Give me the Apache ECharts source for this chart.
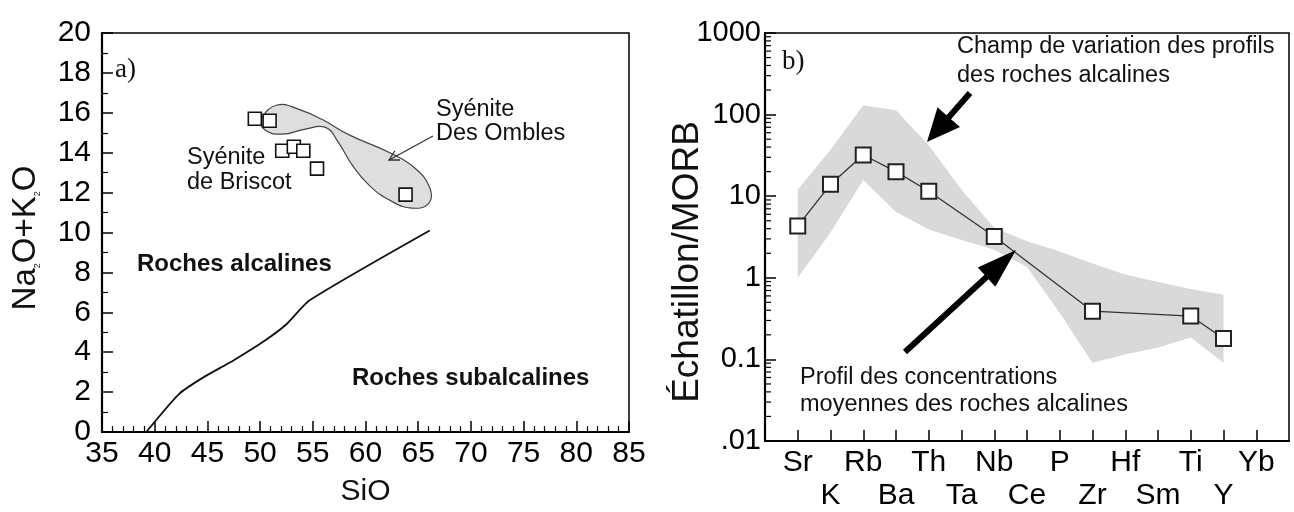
<!DOCTYPE html>
<html>
<head>
<meta charset="utf-8">
<script src="https://cdn.jsdelivr.net/npm/echarts@6/dist/echarts.min.js"></script>
<style>
html,body{margin:0;padding:0;background:#fff;}
#chart{width:1294px;height:512px;}
</style>
</head>
<body>
<div id="chart"></div>
<script>
// ---------- Panel a) data ----------
const sampleSiO2 = [49.5, 50.9, 52.1, 53.2, 54.1, 55.4, 63.8];
const sampleAlk  = [15.7, 15.6, 14.1, 14.3, 14.1, 13.2, 11.9];
const boundarySiO2 = [39.2, 42.3, 44.5, 47.5, 50.5, 52.5, 54.7, 66.1];
const boundaryAlk  = [0.0, 1.9, 2.7, 3.6, 4.6, 5.4, 6.6, 10.1];
const envelopeSiO2 = [50.1, 51.6, 53.8, 55.9, 58.5, 62.3, 64.7, 66.1, 66.0, 64.4, 62.5, 60.4, 58.7, 57.4, 56.2, 54.2, 52.1, 50.5];
const envelopeAlk  = [15.66, 16.39, 16.15, 15.66, 14.88, 14.0, 13.22, 12.24, 11.46, 11.22, 11.56, 12.34, 13.41, 14.54, 15.27, 15.17, 14.93, 15.12];

// ---------- Panel b) data ----------
const elements = ['Sr','K','Rb','Ba','Th','Ta','Nb','Ce','P','Zr','Hf','Sm','Ti','Y','Yb'];
const profile  = [4.3, 14, 32, 20, 11.5, null, 3.2, null, null, 0.39, null, null, 0.34, 0.18, null];
const bandUpper = [12, 37, 130, 113, 42, 12, 4.1, 2.8, 2.1, 1.5, 1.1, 0.89, 0.73, 0.62];
const bandLower = [1.0, 3.6, 15.8, 6.4, 3.9, 2.9, 2.2, 1.36, 0.37, 0.091, 0.115, 0.14, 0.185, 0.091];
const logTickValues = [0.01, 0.1, 1, 10, 100, 1000];
const logTickLabels = ['.01', '0.1', '1', '10', '100', '1000'];

const FONT = "'Liberation Sans', Arial, sans-serif";
const SERIF = "'Liberation Serif', 'Times New Roman', serif";

// minor log ticks (2..9 in each decade)
const minorLog = [];
for (let d = 0; d < logTickValues.length - 1; d++) {
  for (let k = 2; k <= 9; k++) minorLog.push([-1, +(logTickValues[d] * k).toPrecision(3)]);
}

function arrowPts(tail, tip, sw, hl, hw) {
  const dx = tip[0] - tail[0], dy = tip[1] - tail[1];
  const L = Math.hypot(dx, dy), ux = dx / L, uy = dy / L, nx = -uy, ny = ux;
  const bx = tip[0] - ux * hl, by = tip[1] - uy * hl;
  return [
    [tail[0] + nx * sw / 2, tail[1] + ny * sw / 2],
    [bx + nx * sw / 2, by + ny * sw / 2],
    [bx + nx * hw / 2, by + ny * hw / 2],
    tip,
    [bx - nx * hw / 2, by - ny * hw / 2],
    [bx - nx * sw / 2, by - ny * sw / 2],
    [tail[0] - nx * sw / 2, tail[1] - ny * sw / 2]
  ];
}
function thinHead(tail, tip, len, ang) {
  const a = Math.atan2(tail[1] - tip[1], tail[0] - tip[0]);
  return [
    [tip[0] + len * Math.cos(a + ang), tip[1] + len * Math.sin(a + ang)],
    tip,
    [tip[0] + len * Math.cos(a - ang), tip[1] + len * Math.sin(a - ang)]
  ];
}

const envelopeData = envelopeSiO2.map((x, i) => [x, envelopeAlk[i]]);
const bandData = bandUpper.map((u, i) => [i, bandLower[i], u]);

const chart = echarts.init(document.getElementById('chart'), null, {renderer: 'canvas'});

function txt(text, x, y, size, opts) {
  opts = opts || {};
  const st = {
    text: text, x: 0, y: 0, fill: '#111',
    font: (opts.weight || 'normal') + ' ' + size + 'px ' + (opts.family || FONT),
    align: opts.align || 'left', verticalAlign: 'middle'
  };
  if (opts.rich) st.rich = opts.rich;
  return {type: 'text', x: x, y: y, z: 100, rotation: opts.rotation || 0, style: st};
}

const TICKFONT = 30;
const NOTE = 23.5;

const option = {
  backgroundColor: '#fff',
  animation: false,
  grid: [
    {left: 102, top: 33, width: 527, height: 410, show: true, borderColor: '#000', borderWidth: 1.5, backgroundColor: 'transparent'},
    {left: 765, top: 33, width: 524, height: 409, show: true, borderColor: '#000', borderWidth: 1.5, backgroundColor: 'transparent'}
  ],
  xAxis: [
    {
      type: 'value', gridIndex: 0, min: 35, max: 85, interval: 5,
      name: 'SiO', nameLocation: 'middle', nameGap: 45,
      nameTextStyle: {fontSize: 30, color: '#111', fontFamily: FONT},
      axisLine: {show: true, onZero: false, lineStyle: {color: '#000', width: 2.2}},
      axisTick: {show: true, inside: true, length: 11, lineStyle: {color: '#000', width: 1.5}},
      minorTick: {show: true, splitNumber: 5, length: 6, lineStyle: {color: '#000', width: 1.2}},
      axisLabel: {fontSize: TICKFONT, color: '#000', margin: 7, fontFamily: FONT},
      splitLine: {show: false}
    },
    {
      type: 'value', gridIndex: 1, min: -1, max: 15, interval: 1,
      axisLine: {show: true, onZero: false, lineStyle: {color: '#000', width: 2.2}},
      axisTick: {show: true, inside: true, length: 11, lineStyle: {color: '#000', width: 1.5},
                 customValues: elements.map((e, i) => i)},
      axisLabel: {fontSize: TICKFONT, color: '#000', margin: 5, fontFamily: FONT, lineHeight: 33,
                  customValues: elements.map((e, i) => i),
                  formatter: function (v) { const i = Math.round(v); if (i < 0 || i >= elements.length) return ''; return i % 2 ? '\n' + elements[i] : elements[i]; }},
      splitLine: {show: false}
    }
  ],
  yAxis: [
    {
      type: 'value', gridIndex: 0, min: 0, max: 20, interval: 2,
      axisLine: {show: true, onZero: false, lineStyle: {color: '#000', width: 2.2}},
      axisTick: {show: true, inside: true, length: 11, lineStyle: {color: '#000', width: 1.5}},
      minorTick: {show: true, splitNumber: 2, length: 6, lineStyle: {color: '#000', width: 1.2}},
      axisLabel: {fontSize: TICKFONT, color: '#000', margin: 11, fontFamily: FONT, padding: [0, 0, 8, 0]},
      splitLine: {show: false}
    },
    {
      type: 'log', logBase: 10, gridIndex: 1, min: 0.01, max: 1000, splitNumber: 5,
      axisLine: {show: true, onZero: false, lineStyle: {color: '#000', width: 2.2}},
      axisTick: {show: true, inside: true, length: 11, lineStyle: {color: '#000', width: 1.5}},
      axisLabel: {fontSize: 29, color: '#000', margin: 4, fontFamily: FONT, padding: [0, 0, 12, 0],
                  formatter: function (v) { for (let i = 0; i < logTickValues.length; i++) { if (Math.abs(Math.log10(v) - Math.log10(logTickValues[i])) < 1e-6) return logTickLabels[i]; } return ''; }},
      splitLine: {show: false}
    }
  ],
  series: [
    {
      type: 'custom', name: 'Syénite Des Ombles (champ)', xAxisIndex: 0, yAxisIndex: 0, z: 1,
      data: envelopeData,
      renderItem: function (params, api) {
        if (params.dataIndex !== 0) return null;
        const pts = envelopeData.map(p => api.coord(p));
        return {type: 'polygon', shape: {points: pts, smooth: 0.45},
                style: {fill: '#dedede', stroke: '#444', lineWidth: 1.2}};
      }
    },
    {
      type: 'line', name: 'limite', xAxisIndex: 0, yAxisIndex: 0, z: 3,
      data: boundarySiO2.map((x, i) => [x, boundaryAlk[i]]),
      symbol: 'none', smooth: 0.2,
      lineStyle: {color: '#111', width: 1.8}
    },
    {
      type: 'scatter', name: 'échantillons', xAxisIndex: 0, yAxisIndex: 0, z: 5,
      data: sampleSiO2.map((x, i) => [x, sampleAlk[i]]),
      symbol: 'rect', symbolSize: 13,
      itemStyle: {color: '#fff', borderColor: '#111', borderWidth: 1.6, opacity: 1}
    },
    {
      type: 'custom', name: 'champ de variation', xAxisIndex: 1, yAxisIndex: 1, z: 1,
      data: bandData,
      renderItem: function (params, api) {
        if (params.dataIndex !== 0) return null;
        const up = bandData.map(r => api.coord([r[0], r[2]]));
        const lo = bandData.slice().reverse().map(r => api.coord([r[0], r[1]]));
        return {type: 'polygon', shape: {points: up.concat(lo)},
                style: {fill: '#d9d9d9', stroke: null}};
      }
    },
    {
      type: 'line', name: 'profil moyen', xAxisIndex: 1, yAxisIndex: 1, z: 5,
      data: profile.map((v, i) => [i, v]).filter(p => p[1] !== null),
      symbol: 'rect', symbolSize: 15,
      lineStyle: {color: '#333', width: 1.3},
      itemStyle: {color: '#fff', borderColor: '#222', borderWidth: 2}
    },
    {
      type: 'custom', name: 'minor', xAxisIndex: 1, yAxisIndex: 1, z: 6,
      data: minorLog, silent: true,
      renderItem: function (params, api) {
        const p = api.coord([api.value(0), api.value(1)]);
        return {type: 'line', shape: {x1: p[0], y1: p[1], x2: p[0] + 6, y2: p[1]},
                style: {stroke: '#000', lineWidth: 1.2}};
      }
    }
  ],
  graphic: [
    // panel a annotations
    txt('a)', 115, 70, 27, {family: SERIF}),
    txt('Syénite', 187, 158, NOTE),
    txt('de Briscot', 187, 183, NOTE),
    txt('Syénite', 436, 110, NOTE),
    txt('Des Ombles', 436, 134, NOTE),
    txt('Roches alcalines', 137, 264, 24, {weight: 'bold'}),
    txt('Roches subalcalines', 352, 378, 24, {weight: 'bold'}),
    txt('{n|Na}{s|2}{n|O+K}{s|2}{n|O}', 26, 238, 33, {align: 'center', rotation: Math.PI / 2,
        rich: {n: {fontSize: 33, fontFamily: FONT, fill: '#111'}, s: {fontSize: 9, fontFamily: FONT, fill: '#111', verticalAlign: 'bottom', padding: [14, 0, 0, 0]}}}),
    {type: 'polyline', z: 100, shape: {points: [[433, 136], [389, 160]]}, style: {stroke: '#333', lineWidth: 1.3, fill: null}},
    {type: 'polyline', z: 100, shape: {points: thinHead([433, 136], [389, 160], 11, 0.5)}, style: {stroke: '#333', lineWidth: 1.3, fill: null}},
    // panel b annotations
    txt('b)', 782, 62, 27, {family: SERIF}),
    txt('Champ de variation des profils', 957, 47, NOTE),
    txt('des roches alcalines', 957, 76, NOTE),
    txt('Profil des concentrations', 800, 378, NOTE),
    txt('moyennes des roches alcalines', 800, 405, NOTE),
    txt('Échatillon/MORB', 688, 262, 37, {align: 'center', rotation: Math.PI / 2}),
    {type: 'polygon', z: 100, shape: {points: arrowPts([970, 93], [927, 142], 6, 33, 30)}, style: {fill: '#000'}},
    {type: 'polygon', z: 100, shape: {points: arrowPts([905, 352], [1016, 250], 6, 40, 26)}, style: {fill: '#000'}}
  ]
};
chart.setOption(option);
</script>
</body>
</html>
